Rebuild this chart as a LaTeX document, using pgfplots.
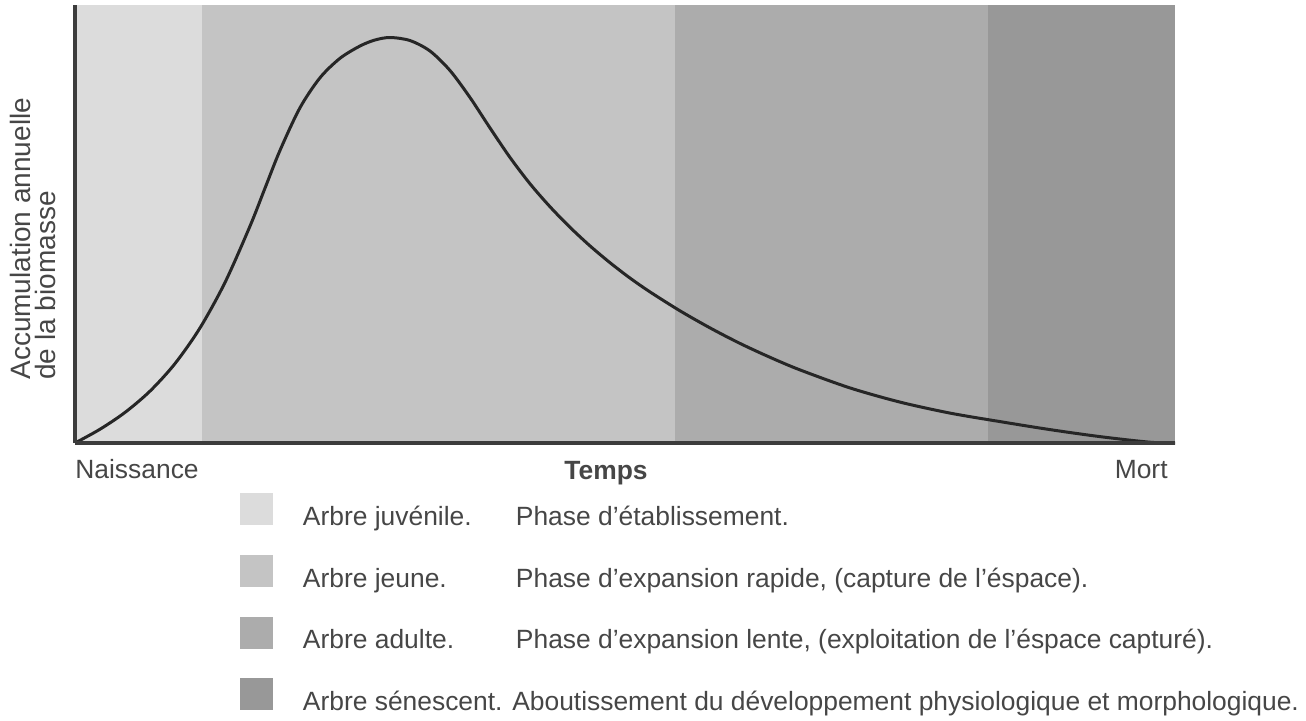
\documentclass[border=0pt]{standalone}
\usepackage{fontspec}
\setmainfont{Liberation Sans}
\usepackage{pgfplots}
\pgfplotsset{compat=1.18}
\definecolor{cjuv}{HTML}{DCDCDC}
\definecolor{cjeu}{HTML}{C4C4C4}
\definecolor{cadu}{HTML}{ACACAC}
\definecolor{csen}{HTML}{989898}
\definecolor{axisc}{HTML}{3C3C3C}
\definecolor{curvec}{HTML}{262626}
\definecolor{txtc}{HTML}{464646}
\begin{document}
\begin{tikzpicture}
\useasboundingbox (-37.5pt,-138.5pt) rectangle (615.5pt,221.5pt);
\begin{axis}[
  at={(0pt,0pt)}, anchor=south west,
  scale only axis, width=550pt, height=219pt,
  xmin=0, xmax=100, ymin=0, ymax=100,
  axis lines*=left,
  axis line style={line width=1.6pt, color=axisc, -},
  axis on top,
  xtick=\empty, ytick=\empty,
  clip=false,
  legend style={at={(0.15,-0.1142)}, anchor=north west, draw=none, fill=none,
    inner sep=0pt, outer sep=0pt, row sep=13.3pt,
    font=\fontsize{13.2}{15}\selectfont, text=txtc,
    nodes={inner sep=0pt}},
  legend cell align=left,
  legend image code/.code={\fill[#1] (0pt,-4pt) rectangle (16.5pt,12pt);},
]
\addplot[fill=cjuv, draw=none] coordinates {(0,100) (11.5,100)} \closedcycle;
\addlegendentry{\hspace*{15pt}\makebox[106.5pt][l]{Arbre juvénile.}Phase d'établissement.}
\addplot[fill=cjeu, draw=none] coordinates {(11.5,100) (54.5,100)} \closedcycle;
\addlegendentry{\hspace*{15pt}\makebox[106.5pt][l]{Arbre jeune.}Phase d'expansion rapide, (capture de l'éspace).}
\addplot[fill=cadu, draw=none] coordinates {(54.5,100) (83.0,100)} \closedcycle;
\addlegendentry{\hspace*{15pt}\makebox[106.5pt][l]{Arbre adulte.}Phase d'expansion lente, (exploitation de l'éspace capturé).}
\addplot[fill=csen, draw=none] coordinates {(83.0,100) (100,100)} \closedcycle;
\addlegendentry{\hspace*{15pt}Arbre sénescent. Aboutissement du développement physiologique et morphologique.}
\addplot[forget plot, smooth, line width=1.5pt, color=curvec] coordinates {
(0,0) (2.27,3.14) (4.55,6.99) (6.82,11.85) (9.09,18.13) (11.36,26.26) (13.64,36.67)
(15.91,49.52) (17.27,58.17) (18.64,66.83) (20.45,76.53) (22.27,83.38) (24.09,87.83)
(25.91,90.64) (27.27,92.01) (28.64,92.58) (30.45,91.89) (32.27,89.50) (34.09,85.05)
(35.91,78.88) (37.73,71.92) (39.55,65.18) (41.36,59.20) (43.18,53.95) (45.0,49.25)
(46.82,45.0) (48.64,41.16) (50.45,37.67) (52.27,34.50) (55.0,30.18) (57.73,26.28)
(60.45,22.74) (63.18,19.57) (65.91,16.69) (70.45,12.58) (75.0,9.34) (79.55,6.83)
(84.09,4.89) (88.64,3.06) (93.18,1.46) (97.73,0.18) (100,0)};
\end{axis}
\begin{scope}[every node/.style={text=txtc, font=\fontsize{13.2}{15}\selectfont, inner sep=0pt}]
\node[anchor=base west] at (0pt,-17.5pt) {Naissance};
\node[anchor=base] at (265.5pt,-18pt) {\bfseries Temps};
\node[anchor=base east] at (546.5pt,-17.5pt) {Mort};
\node[rotate=90, anchor=west, align=left, font=\fontsize{14}{12.5}\selectfont] at (-21.25pt,31.5pt) {Accumulation annuelle\\de la biomasse};
\end{scope}
\end{tikzpicture}
\end{document}
